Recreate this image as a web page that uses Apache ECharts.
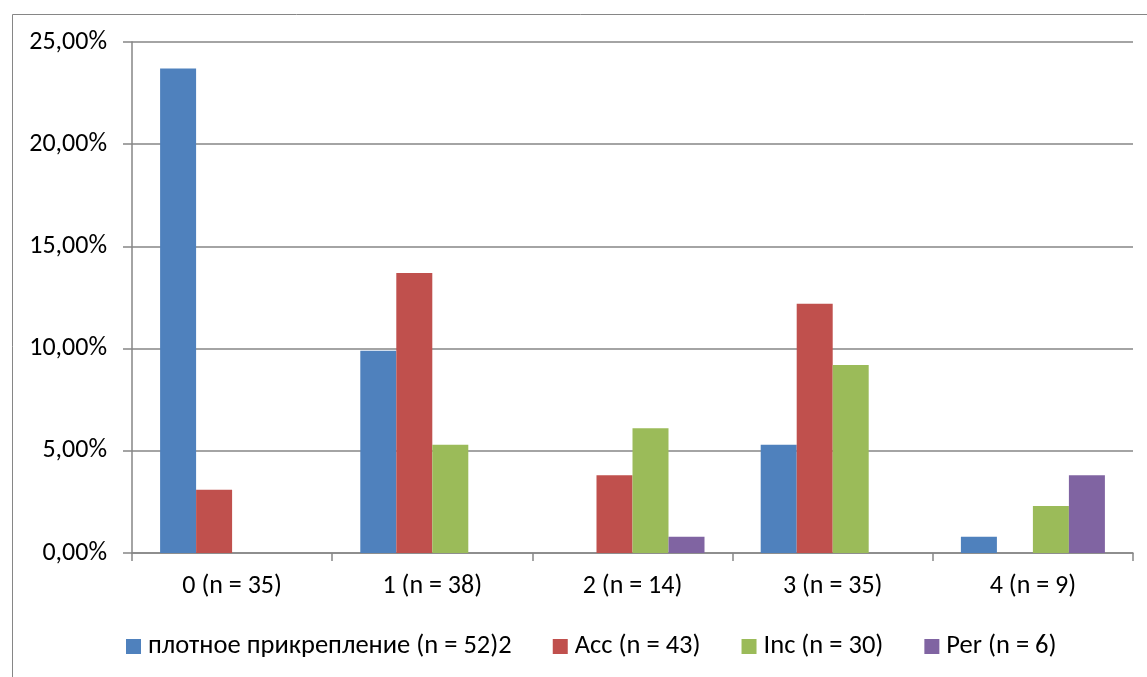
<!DOCTYPE html>
<html>
<head>
<meta charset="utf-8">
<script src="https://cdn.jsdelivr.net/npm/echarts@6/dist/echarts.min.js"></script>
<style>
  html, body { margin: 0; padding: 0; background: #fff; }
  #chart { width: 1147px; height: 677px; }
</style>
</head>
<body>
<div id="chart"></div>
<script>
// Category labels along the x axis
const categories = ['0 (n = 35)', '1 (n = 38)', '2 (n = 14)', '3 (n = 35)', '4 (n = 9)'];

// Series names
const seriesNames = ['плотное прикрепление (n = 52)2', 'Acc (n = 43)', 'Inc (n = 30)', 'Per (n = 6)'];

// Share of each group per category, in percent (null = no bar)
const plotnoe = [23.7, 9.9, null, 5.3, 0.8];
const acc = [3.1, 13.7, 3.8, 12.2, null];
const inc = [null, 5.3, 6.1, 9.2, 2.3];
const per = [null, null, 0.8, null, 3.8];

// Y axis ticks
const yMin = 0, yMax = 25, yStep = 5;

const colors = ['#4F81BD', '#C0504D', '#9BBB59', '#8064A2'];
const FONT = "Carlito, 'Liberation Sans Narrow', 'Open Sans', sans-serif";
const FS = 26;

const chart = echarts.init(document.getElementById('chart'), null, { renderer: 'canvas' });

const values = [plotnoe, acc, inc, per];

chart.setOption({
  animation: false,
  backgroundColor: '#fff',
  color: colors,
  graphic: [{
    type: 'rect',
    left: 10, top: 12,
    shape: { width: 1136, height: 700 },
    style: { fill: 'none', stroke: '#868686', lineWidth: 1 },
    silent: true
  }],
  grid: { left: 132, right: 14, top: 42, bottom: 124, containLabel: false },
  legend: {
    top: 628,
    left: 121,
    itemWidth: 15,
    itemHeight: 15,
    itemGap: 41,
    icon: 'rect',
    textStyle: { fontFamily: FONT, fontSize: 26.5, color: '#000', padding: [0, 0, 0, 2] },
    data: seriesNames
  },
  xAxis: {
    type: 'category',
    data: categories,
    axisLine: { lineStyle: { color: '#868686', width: 1.5 } },
    axisTick: { show: true, length: 8, alignWithLabel: false, lineStyle: { color: '#868686', width: 1.5 } },
    axisLabel: { fontFamily: FONT, fontSize: FS, color: '#000', margin: 20 },
    splitLine: { show: false }
  },
  yAxis: {
    type: 'value',
    min: yMin, max: yMax, interval: yStep,
    axisLine: { show: true, lineStyle: { color: '#868686', width: 1.5 } },
    axisTick: { show: true, length: 9, lineStyle: { color: '#868686', width: 1.5 } },
    axisLabel: {
      fontFamily: FONT, fontSize: FS, color: '#000', margin: 25,
      formatter: v => v.toFixed(2).replace('.', ',') + '%'
    },
    splitLine: { lineStyle: { color: '#868686', width: 1.5 } }
  },
  series: seriesNames.map((name, i) => ({
    name: name,
    type: 'bar',
    data: values[i],
    barWidth: 36,
    barGap: '0%',
    itemStyle: { color: colors[i] }
  }))
});
</script>
</body>
</html>
